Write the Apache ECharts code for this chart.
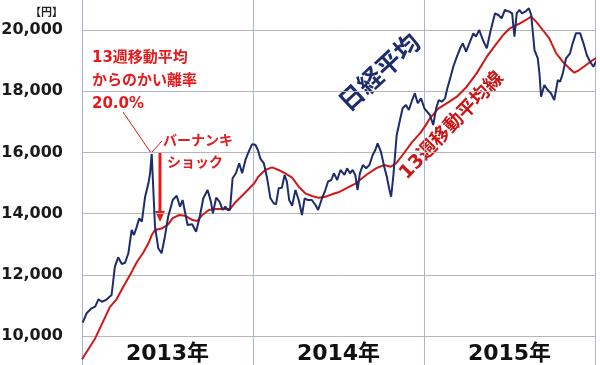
<!DOCTYPE html>
<html><head><meta charset="utf-8">
<script src="https://cdn.jsdelivr.net/npm/echarts@6/dist/echarts.min.js"></script>
<style>html,body{margin:0;padding:0;background:#fff}#c{width:600px;height:365px}</style>
</head><body><div id="c"></div>
<script>
// Nikkei 225 weekly (week index from start of 2013)
const nikkeiWeeks = [0.2,1.4,2.9,4.0,5.0,6.0,7.3,9.0,10.0,11.0,12.1,13.1,14.1,15.1,15.8,16.6,17.4,18.2,19.2,20.2,20.7,21.2,22.2,23.2,24.2,25.2,26.2,27.6,28.8,29.8,30.6,31.4,32.1,33.5,34.7,35.7,36.9,38.2,39.2,39.8,40.8,41.8,42.8,43.6,44.3,45.0,45.8,46.8,47.8,48.7,49.7,50.7,51.7,52.7,53.5,54.2,55.3,56.3,57.3,58.3,59.0,59.8,60.8,61.6,62.3,63.0,63.9,64.9,65.9,66.9,67.7,68.7,69.9,71.0,71.8,73.0,74.0,74.8,75.8,76.6,77.6,78.6,79.2,79.8,80.6,81.5,82.3,83.1,83.8,84.5,85.4,86.4,87.4,88.4,89.2,89.9,90.9,91.9,92.7,93.5,94.0,94.7,95.7,96.7,97.5,98.5,99.4,100.4,101.2,102.1,103.1,104.1,105.8,106.8,107.7,108.5,109.4,110.4,111.1,112.1,112.9,114.0,115.0,115.8,116.8,118.0,119.0,119.8,120.8,121.9,123.1,124.3,125.6,126.6,127.6,128.6,129.9,130.8,131.5,132.2,133.0,133.8,134.8,135.9,136.6,137.6,138.6,139.1,139.6,140.6,141.6,142.6,143.6,144.7,145.4,146.2,147.2,148.4,149.2,150.2,151.5,152.5,153.5,154.5,155.5,156.3,156.8];
const nikkeiValues = [10435,10742,10905,10958,11199,11121,11176,11340,12265,12572,12353,12395,12703,13464,13301,13552,13846,13735,14552,14990,15317,15950,13572,12866,12703,13245,13899,14444,14585,14226,14444,14010,13627,13650,13409,13846,14500,14771,14389,14010,14520,14389,14118,14226,14118,14118,15154,15317,15644,15317,15752,16023,16265,16250,16078,15807,15644,15154,14500,14337,14304,14827,14848,15262,15043,14444,14258,14771,14444,13955,14500,14444,14444,14281,14118,14500,14771,15043,15098,15317,15098,15425,15480,15262,15480,15317,15425,15262,14771,15317,15588,15480,15588,15915,16078,16298,16023,15534,15206,14771,14552,15262,16569,17059,17441,17549,17386,17712,17931,17604,17767,17441,17222,16896,17441,17712,17657,17767,18094,18473,18800,19127,19401,19564,19291,19618,19891,19782,20000,19673,19401,20000,20546,20490,20383,20654,20600,20546,19782,20546,20654,20546,20600,20709,20490,19346,19074,18583,17820,18203,18039,17931,17712,18366,18311,18583,19074,19237,19564,19891,19891,19564,19182,18964,18800,18964,19040];
// 13-week moving average
const maWeeks = [0.0,4.0,8.5,10.5,12.6,14.6,16.6,18.6,20.2,21.2,22.2,23.2,24.2,25.5,26.2,27.6,29.6,31.6,33.6,35.1,36.6,38.6,40.7,43.2,45.0,46.8,48.9,50.9,52.4,53.6,55.7,57.8,59.8,61.8,63.9,65.9,67.9,69.9,71.9,74.0,76.0,78.0,80.3,83.3,86.4,89.4,91.9,93.9,95.5,97.5,100.5,102.8,104.6,105.8,108.4,110.9,114.0,117.0,120.0,123.1,126.1,128.1,130.1,132.8,135.0,136.6,138.1,140.1,142.1,144.2,146.2,148.2,149.7,151.2,153.3,155.3,156.8];
const maValues = [9239,9920,10950,11200,11620,11990,12400,12720,13030,13300,13460,13490,13510,13600,13650,13850,13955,13920,13790,13760,13955,14118,14150,14150,14150,14389,14608,14827,14990,15206,15425,15512,15425,15317,15174,14880,14663,14575,14520,14552,14630,14696,14827,14990,15262,15480,15588,15534,15644,15915,16350,16620,16900,17114,17441,17604,17820,18147,18583,19127,19564,19837,20055,20196,20327,20436,20273,20000,19728,19237,18964,18746,18605,18692,18856,19019,19106];
const yearLabels = ['2013年','2014年','2015年'];
const yMin = 8000, yMax = 22000, yStep = 2000;
const xMin = 0, xMax = 156, xStep = 52;

const zip = (a, b) => a.map((v, i) => [v, b[i]]);
const chart = echarts.init(document.getElementById('c'));
const jp = '"DejaVu Sans","Noto Sans CJK JP",sans-serif';
chart.setOption({
  animation: false,
  backgroundColor: '#fff',
  grid: { left: 82, right: 5, top: -31.2, bottom: -32.2, outerBoundsMode: 'none', containLabel: false },
  xAxis: [
    { type: 'value', min: xMin, max: xMax, interval: xStep,
      axisLine: { show: false }, axisTick: { show: false }, axisLabel: { show: false },
      splitLine: { show: true, lineStyle: { color: '#aab2de', width: 1 } } },
    { type: 'category', data: yearLabels, position: 'bottom', offset: -43,
      axisLine: { show: false }, axisTick: { show: false }, splitLine: { show: false },
      axisLabel: { margin: 0, verticalAlign: 'middle', fontSize: 22, fontWeight: 'bold', color: '#111', fontFamily: jp } }
  ],
  yAxis: { type: 'value', min: yMin, max: yMax, interval: yStep,
    axisLine: { show: false }, axisTick: { show: false },
    axisLabel: { margin: 19, fontSize: 16, fontWeight: 'bold', color: '#1a1a1a', fontFamily: '"DejaVu Sans",sans-serif',
      formatter: v => v.toLocaleString('en-US') },
    splitLine: { lineStyle: { color: '#b6b6b6', width: 1 } } },
  series: [
    { type: 'line', data: zip(maWeeks, maValues), showSymbol: false, clip: false,
      lineStyle: { color: '#d01818', width: 2 }, z: 3 },
    { type: 'line', data: zip(nikkeiWeeks, nikkeiValues), showSymbol: false, clip: false,
      lineStyle: { color: '#1c2c6c', width: 2 }, z: 4 }
  ],
  graphic: [
    { type: 'text', x: 30, y: 6, style: { text: '【円】', font: 'bold 11px "Noto Sans CJK JP"', fill: '#222' } },
    { type: 'text', x: 92, y: 47, style: { text: '13週移動平均\nからのかい離率\n20.0%', fontSize: 15, lineHeight: 23, fontWeight: 'bold', fill: '#e8191b', fontFamily: jp } },
    { type: 'polyline', shape: { points: [[123, 112], [151, 153], [162, 141]] }, style: { stroke: '#d41a1a', lineWidth: 1, fill: null } },
    { type: 'text', x: 163, y: 134, style: { text: 'バーナンキ', fontSize: 14, fontWeight: 'bold', fill: '#e8191b', fontFamily: jp } },
    { type: 'text', x: 167, y: 156, style: { text: 'ショック', fontSize: 14, fontWeight: 'bold', fill: '#e8191b', fontFamily: jp } },
    { type: 'line', shape: { x1: 160, y1: 153, x2: 160, y2: 212 }, style: { stroke: '#e8191b', lineWidth: 3 } },
    { type: 'polygon', shape: { points: [[155, 211], [165, 211], [160, 222]] }, style: { fill: '#e8191b' } },
    { type: 'text', x: 381, y: 74, rotation: 43 * Math.PI / 180,
      style: { text: '日経平均', fontSize: 25, fontWeight: 'bold', fill: '#1c2c6c', fontFamily: jp, align: 'center', verticalAlign: 'middle' } },
    { type: 'text', x: 452, y: 126, rotation: 46 * Math.PI / 180,
      style: { text: '13週移動平均線', fontSize: 19, fontWeight: 'bold', fill: '#cc1414', fontFamily: jp, align: 'center', verticalAlign: 'middle' } }
  ]
});
</script></body></html>
